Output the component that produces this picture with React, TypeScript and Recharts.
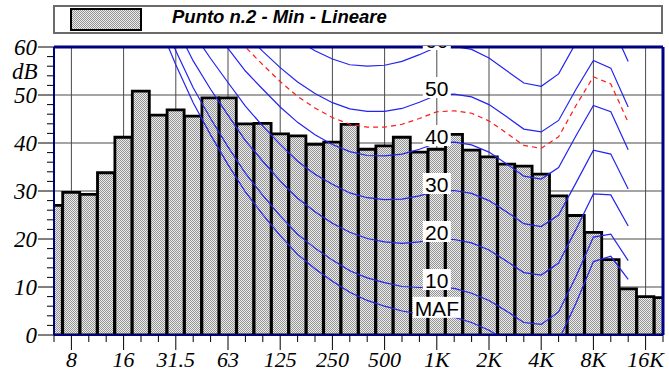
import React from 'react'
import { ComposedChart, Bar, Line, XAxis, YAxis, CartesianGrid, ReferenceDot, ReferenceLine, Legend } from 'recharts'

// 1/3 octave bands shown on the chart
const bands = [
  '6.3', '8', '10', '12.5', '16', '20', '25', '31.5', '40', '50', '63', '80',
  '100', '125', '160', '200', '250', '315', '400', '500', '630', '800', '1K', '1.25K',
  '1.6K', '2K', '2.5K', '3.15K', '4K', '5K', '6.3K', '8K', '10K', '12.5K', '16K', '20K',
]
const octaveLabels = ['8', '16', '31.5', '63', '125', '250', '500', '1K', '2K', '4K', '8K', '16K']

// measured spectrum, dB
const levels = [
  27.0, 29.7, 29.3, 33.8, 41.2, 50.8, 45.8, 46.9, 45.6, 49.4, 49.4, 44.0,
  44.1, 41.9, 41.5, 39.7, 40.2, 43.9, 38.7, 39.4, 41.2, 38.1, 38.7, 41.8,
  38.5, 37.1, 35.6, 35.2, 33.5, 29.0, 24.9, 21.4, 15.7, 9.6, 8.0, 7.8,
]

const dbTicks = [0, 2, 4, 6, 8, 10, 12, 14, 16, 18, 20, 22, 24, 26, 28, 30, 32, 34, 36, 38, 40, 42, 44, 46, 48, 50, 52, 54, 56, 58, 60]
const gridDb = [10, 20, 30, 40, 50]
const dbMax = 60

// equal loudness contours, 20 Hz .. 12.5 kHz
const curveFrom = '20'
const labelAt = '1K'
const maf = [74.3, 65.0, 56.3, 48.4, 41.7, 35.5, 29.8, 25.1, 20.7, 16.8, 13.8, 11.2, 8.9, 7.2, 6.0, 5.0, 4.4, 4.2, 3.7, 2.6, 1.0, -1.2, -3.6, -3.9, -1.1, 6.6, 15.3, 16.4, 11.6]
const phon10 = [76.8, 67.7, 59.2, 51.5, 45.1, 39.2, 33.7, 29.1, 24.8, 21.0, 18.1, 15.6, 13.4, 11.9, 10.9, 10.1, 9.9, 10.0, 9.7, 8.7, 7.2, 5.0, 2.6, 2.2, 4.8, 12.2, 20.4, 21.0, 15.5]
const phon20 = [81.3, 72.5, 64.3, 57.1, 51.2, 45.8, 40.5, 36.2, 32.1, 28.5, 25.7, 23.3, 21.4, 20.1, 19.4, 19.1, 19.4, 20.0, 19.9, 19.2, 17.7, 15.4, 13.0, 12.5, 15.0, 22.0, 29.4, 29.2, 22.7]
const phon30 = [86.0, 77.6, 69.7, 62.9, 57.6, 52.6, 47.7, 43.5, 39.7, 36.2, 33.5, 31.4, 29.6, 28.6, 28.2, 28.3, 29.0, 30.0, 30.1, 29.5, 28.0, 25.7, 23.2, 22.6, 25.0, 31.7, 38.5, 37.7, 30.4]
const phon40 = [91.0, 82.9, 75.4, 69.0, 64.3, 59.7, 55.0, 51.2, 47.5, 44.3, 41.7, 39.7, 38.2, 37.4, 37.3, 37.7, 38.7, 40.0, 40.2, 39.6, 38.1, 35.7, 33.1, 32.5, 34.9, 41.5, 47.8, 46.5, 38.6]
const phon50 = [96.2, 88.5, 81.3, 75.4, 71.3, 67.1, 62.7, 59.1, 55.7, 52.7, 50.3, 48.4, 47.1, 46.6, 46.6, 47.2, 48.5, 50.0, 50.2, 49.6, 48.0, 45.5, 42.9, 42.3, 44.7, 51.2, 57.2, 55.6, 47.5]
const phon60 = [101.7, 94.4, 87.6, 82.1, 78.6, 74.8, 70.6, 67.3, 64.2, 61.4, 59.2, 57.5, 56.3, 56.0, 56.2, 57.0, 58.4, 60.0, 60.1, 59.5, 57.7, 55.1, 52.5, 51.8, 54.4, 60.9, 66.7, 65.0, 57.0]
// loudness level of the spectrum (red dashed)
const loudness = [94.3, 86.5, 79.2, 73.2, 68.8, 64.5, 60.0, 56.3, 52.8, 49.7, 47.3, 45.3, 43.9, 43.3, 43.3, 43.9, 45.1, 46.5, 46.7, 46.2, 44.6, 42.1, 39.5, 38.9, 41.3, 47.8, 53.8, 52.3, 44.3]

const contours = [
  { key: 'maf', label: 'MAF', values: maf },
  { key: 'p10', label: '10', values: phon10 },
  { key: 'p20', label: '20', values: phon20 },
  { key: 'p30', label: '30', values: phon30 },
  { key: 'p40', label: '40', values: phon40 },
  { key: 'p50', label: '50', values: phon50 },
  { key: 'p60', label: '60', values: phon60 },
]

const start = bands.indexOf(curveFrom)
const pick = (arr: number[], i: number) => (arr[i - start] === undefined ? null : arr[i - start])

const data = bands.map((band, i) => {
  const row: Record<string, any> = { i, band, level: levels[i], loud: pick(loudness, i) }
  contours.forEach((c) => {
    row[c.key] = pick(c.values, i)
  })
  return row
})

const bandIdx = bands.map((_, i) => i)
const octaveIdx = bandIdx.filter((i) => octaveLabels.includes(bands[i]))
const labelIdx = bands.indexOf(labelAt)
const lastIdx = bands.length - 1

const NAVY = '#000080'
const BLUE = '#2424f0'
const SERIF = 'Liberation Serif, Times New Roman, serif'

function FreqTick(props: any) {
  const { x, y, payload } = props
  const name = bands[payload.value]
  const major = octaveLabels.includes(name)
  return (
    <g>
      <line x1={x} x2={x} y1={y} y2={y + (major ? 15 : 7)} stroke="#000" strokeWidth={1} />
      {major && (
        <text x={x} y={y + 32} textAnchor="middle" fontFamily={SERIF} fontStyle="italic" fontSize={22} fill="#000">
          {name}
        </text>
      )}
    </g>
  )
}

function DbTick(props: any) {
  const { x, y, payload } = props
  const major = payload.value % 10 === 0
  return (
    <g>
      <line x1={x - (major ? 16 : 7)} x2={x} y1={y} y2={y} stroke="#000" strokeWidth={1} />
      {major && (
        <text x={x - 17} y={y + 8} textAnchor="end" fontFamily={SERIF} fontStyle="italic" fontSize={23} fill="#000">
          {payload.value}
        </text>
      )}
    </g>
  )
}

const curveLabel = (text: string, atTop: boolean) => (props: any) => {
  const { cx, cy } = props
  const w = text.length > 2 ? 48 : 28
  const clipId = 'lbl-clip-' + text
  return (
    <g clipPath={atTop ? `url(#${clipId})` : undefined}>
      {atTop && (
        <defs>
          <clipPath id={clipId}>
            <rect x={cx - w} y={cy - 1} width={w * 2} height={30} />
          </clipPath>
        </defs>
      )}
      <rect x={cx - w / 2} y={cy - 18} width={w} height={21} fill="#fff" />
      <text
        x={cx}
        y={cy + 1}
        textAnchor="middle"
        fontSize={21}
        fontFamily="Liberation Sans, Arial, sans-serif"
        fill="#000"
      >
        {text}
      </text>
    </g>
  )
}

function renderLegend(props: any) {
  const item = (props.payload || []).find((p: any) => p.dataKey === 'level')
  return (
    <div
      style={{
        boxSizing: 'border-box',
        width: 610,
        height: 29,
        border: '2px solid #6a6a6a',
        position: 'relative',
        background: '#fff',
      }}
    >
      <svg width={72} height={23} style={{ position: 'absolute', left: 15, top: 1 }}>
        <rect x={1} y={1} width={70} height={21} fill="url(#hatch)" stroke="#000" strokeWidth={2} />
      </svg>
      <span
        style={{
          position: 'absolute',
          left: 117,
          top: -1,
          whiteSpace: 'nowrap',
          font: 'italic bold 18.5px "Liberation Sans", Arial, sans-serif',
          color: '#000',
        }}
      >
        {item ? item.value : ''}
      </span>
    </div>
  )
}

export default function App() {
  return (
    <div style={{ position: 'absolute', left: 0, top: 0, width: 669, height: 372, background: '#fff' }}>
      <ComposedChart
        width={669}
        height={372}
        data={data}
        margin={{ top: 47, right: 6, bottom: 0, left: 0 }}
        barCategoryGap={0}
        barGap={0}
      >
        <defs>
          <pattern id="hatch" width="2" height="2" patternUnits="userSpaceOnUse">
            <rect width="2" height="2" fill="#ececec" />
            <rect width="1" height="1" fill="#949494" />
            <rect x="1" y="1" width="1" height="1" fill="#949494" />
          </pattern>
        </defs>
        <CartesianGrid stroke="#4a4a4a" horizontalValues={gridDb} verticalValues={octaveIdx} />
        <Legend
          layout="horizontal"
          verticalAlign="middle"
          align="center"
          wrapperStyle={{ top: 5, left: 53, width: 610, height: 29 }}
          content={renderLegend}
        />
        <Bar
          dataKey="level"
          name="Punto n.2 - Min - Lineare"
          fill="url(#hatch)"
          stroke="#000"
          strokeWidth={2.8}
          isAnimationActive={false}
        />
        {contours.map((c) => (
          <Line
            key={c.key}
            dataKey={c.key}
            type="linear"
            stroke={BLUE}
            strokeWidth={1.2}
            dot={false}
            activeDot={false}
            legendType="none"
            isAnimationActive={false}
          />
        ))}
        <Line
          dataKey="loud"
          type="linear"
          stroke="#ff1a1a"
          strokeWidth={1.2}
          strokeDasharray="5 4"
          dot={false}
          activeDot={false}
          legendType="none"
          isAnimationActive={false}
        />
        {contours.map((c) => {
          const v = pick(c.values, labelIdx) as number
          return (
            <ReferenceDot
              key={'lbl-' + c.key}
              x={labelIdx}
              y={v}
              ifOverflow="hidden"
              shape={curveLabel(c.label, v >= dbMax)}
            />
          )
        })}
        <ReferenceLine y={dbMax} stroke={NAVY} strokeWidth={3} ifOverflow="visible" />
        <ReferenceLine x={lastIdx} stroke={NAVY} strokeWidth={3} ifOverflow="visible" />
        <XAxis
          dataKey="i"
          type="number"
          domain={[0, lastIdx]}
          allowDataOverflow
          ticks={bandIdx}
          tickCount={bands.length}
          interval={0}
          height={37}
          tickSize={0}
          tickMargin={0}
          tickLine={false}
          tick={FreqTick}
          stroke={NAVY}
          axisLine={{ stroke: NAVY, strokeWidth: 2 }}
        />
        <YAxis
          type="number"
          domain={[0, dbMax]}
          allowDataOverflow
          ticks={dbTicks}
          interval={0}
          width={54}
          tickSize={0}
          tickMargin={0}
          tickLine={false}
          tick={DbTick}
          stroke={NAVY}
          axisLine={{ stroke: NAVY, strokeWidth: 2 }}
          label={{
            content: (p: any) => (
              <text
                x={p.viewBox.x + 12}
                y={p.viewBox.y + 32}
                fontFamily={SERIF}
                fontStyle="italic"
                fontSize={23}
                fill="#000"
              >
                dB
              </text>
            ),
          }}
        />
      </ComposedChart>
    </div>
  )
}
